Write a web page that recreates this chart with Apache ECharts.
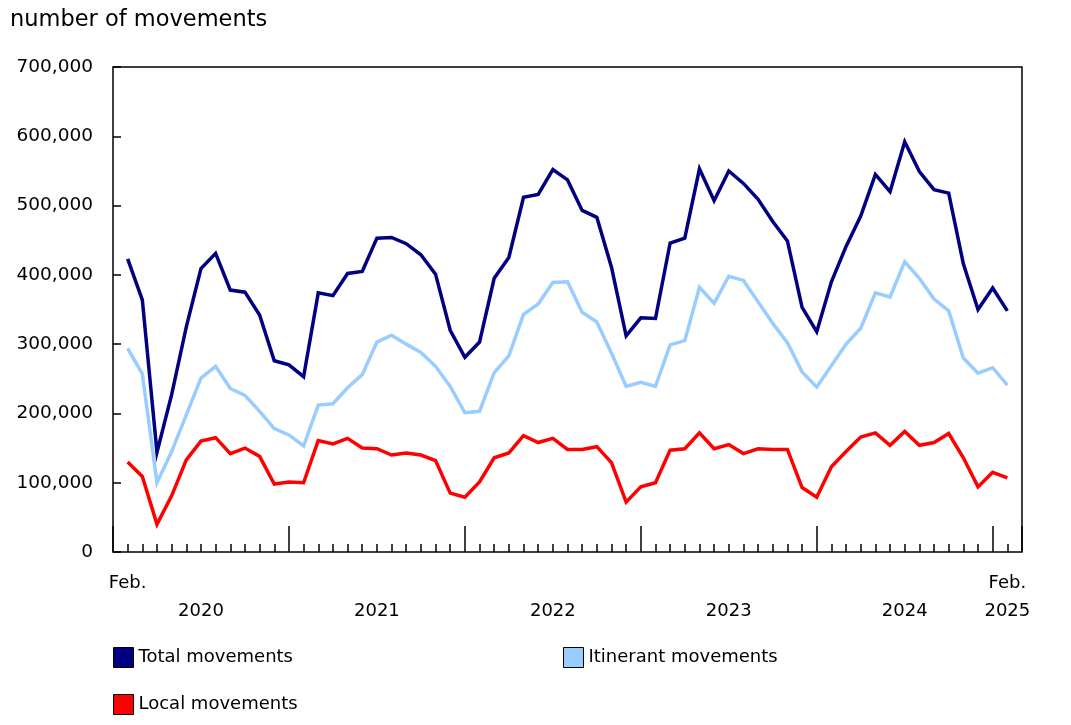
<!DOCTYPE html>
<html>
<head>
<meta charset="utf-8">
<script src="https://cdn.jsdelivr.net/npm/echarts@6/dist/echarts.min.js"></script>
<style>
html,body{margin:0;padding:0;background:#fff;}
#chart{width:1071px;height:725px;}
</style>
</head>
<body>
<div id="chart"></div>
<script>
// Monthly, February 2020 to February 2025
const firstMonthLabel = 'Feb.';
const yearLabels = ['2020', '2021', '2022', '2023', '2024', '2025'];
const seriesNames = ['Total movements', 'Itinerant movements', 'Local movements'];

const totalMovements = [
  423000, 364000, 144000, 227000, 325000, 409000, 431000, 378000, 375000, 342000, 276000,
  270000, 253000, 374000, 370000, 402000, 405000, 453000, 454000, 445000, 429000, 401000, 320000,
  281000, 303000, 395000, 425000, 512000, 516000, 552000, 537000, 493000, 483000, 411000, 312000,
  338000, 337000, 446000, 453000, 553000, 507000, 550000, 532000, 509000, 477000, 449000, 353000,
  318000, 390000, 441000, 485000, 545000, 520000, 592000, 549000, 523000, 518000, 416000, 350000,
  381000, 348000
];
const itinerantMovements = [
  294000, 257000, 100000, 145000, 198000, 251000, 268000, 236000, 226000, 203000, 178000,
  169000, 153000, 212000, 214000, 237000, 256000, 303000, 313000, 300000, 288000, 268000, 239000,
  201000, 203000, 259000, 283000, 343000, 358000, 389000, 390000, 346000, 332000, 287000, 239000,
  245000, 239000, 299000, 305000, 382000, 359000, 398000, 392000, 361000, 330000, 302000, 260000,
  238000, 269000, 300000, 323000, 374000, 368000, 419000, 395000, 365000, 348000, 280000, 258000,
  266000, 241000
];
const localMovements = [
  130000, 109000, 40000, 81000, 133000, 160000, 165000, 142000, 150000, 138000, 98000,
  101000, 100000, 161000, 156000, 164000, 150000, 149000, 140000, 143000, 140000, 132000, 85000,
  79000, 101000, 136000, 143000, 168000, 158000, 164000, 148000, 148000, 152000, 129000, 72000,
  94000, 100000, 147000, 149000, 172000, 149000, 155000, 142000, 149000, 148000, 148000, 93000,
  79000, 123000, 145000, 166000, 172000, 154000, 174000, 154000, 158000, 171000, 136000, 94000,
  115000, 107000
];

const colors = ['#000080', '#99CCFF', '#FF0000'];
const FONT = 'DejaVu Sans';

// month position: January 2020 = 0, February 2020 = 1, ..., February 2025 = 61
const toPairs = arr => arr.map((v, i) => [i + 1, v]);
const lastPos = totalMovements.length; // 61

const chart = echarts.init(document.getElementById('chart'), null, {renderer: 'canvas'});

const baseX = {
  type: 'value', min: 0, max: lastPos + 1, gridIndex: 0, position: 'bottom', offset: 0,
  splitLine: {show: false}, axisLine: {show: false}
};

const option = {
  animation: false,
  backgroundColor: '#fff',
  title: {
    text: 'number of movements', left: 10, top: 9, padding: 0,
    textStyle: {fontFamily: FONT, fontSize: 22.5, fontWeight: 'normal', color: '#000'}
  },
  grid: {left: 113, top: 67, right: 49, bottom: 173, show: true, borderColor: '#000', borderWidth: 1.5, backgroundColor: 'transparent'},
  legend: [
    {data: [seriesNames[0]], left: 113, top: 647},
    {data: [seriesNames[1]], left: 563, top: 647},
    {data: [seriesNames[2]], left: 113, top: 694}
  ].map(l => Object.assign(l, {
    orient: 'horizontal', icon: 'rect', itemWidth: 20, itemHeight: 20, padding: 0,
    itemStyle: {borderColor: '#000', borderWidth: 1},
    textStyle: {fontFamily: FONT, fontSize: 18, color: '#000'},
    selectedMode: false
  })),
  xAxis: [
    Object.assign({}, baseX, {
      interval: 1,
      axisTick: {show: true, inside: true, length: 8, lineStyle: {color: '#000', width: 1.5}},
      axisLabel: {
        show: true, margin: 22, interval: 0, hideOverlap: false,
        fontFamily: FONT, fontSize: 18, color: '#000',
        formatter: v => (v === 1 || v === lastPos) ? firstMonthLabel : ''
      }
    }),
    Object.assign({}, baseX, {
      interval: 12,
      axisTick: {show: true, inside: true, length: 26, lineStyle: {color: '#000', width: 1.5}},
      axisLabel: {show: false}
    }),
    Object.assign({}, baseX, {
      interval: 1,
      axisTick: {show: false},
      axisLabel: {
        show: true, margin: 50, interval: 0, hideOverlap: false,
        fontFamily: FONT, fontSize: 18, color: '#000',
        formatter: v => {
          if (v === lastPos) return yearLabels[yearLabels.length - 1];
          if (v % 12 === 6) { const k = (v - 6) / 12; return yearLabels[k] || ''; }
          return '';
        }
      }
    })
  ],
  yAxis: {
    type: 'value', min: 0, max: 700000, interval: 100000,
    splitLine: {show: false},
    axisLine: {show: false},
    axisTick: {show: true, inside: true, length: 8, lineStyle: {color: '#000', width: 1.5}},
    axisLabel: {
      margin: 20, fontFamily: FONT, fontSize: 18.5, color: '#000',
      formatter: v => v.toLocaleString('en-US')
    }
  },
  series: [
    {name: seriesNames[0], data: toPairs(totalMovements), color: colors[0]},
    {name: seriesNames[1], data: toPairs(itinerantMovements), color: colors[1]},
    {name: seriesNames[2], data: toPairs(localMovements), color: colors[2]}
  ].map(s => Object.assign(s, {
    type: 'line', xAxisIndex: 0, showSymbol: false, symbol: 'none',
    lineStyle: {width: 3.5, color: s.color, join: 'miter'},
    itemStyle: {color: s.color},
    emphasis: {disabled: true}
  }))
};

chart.setOption(option);
</script>
</body>
</html>
